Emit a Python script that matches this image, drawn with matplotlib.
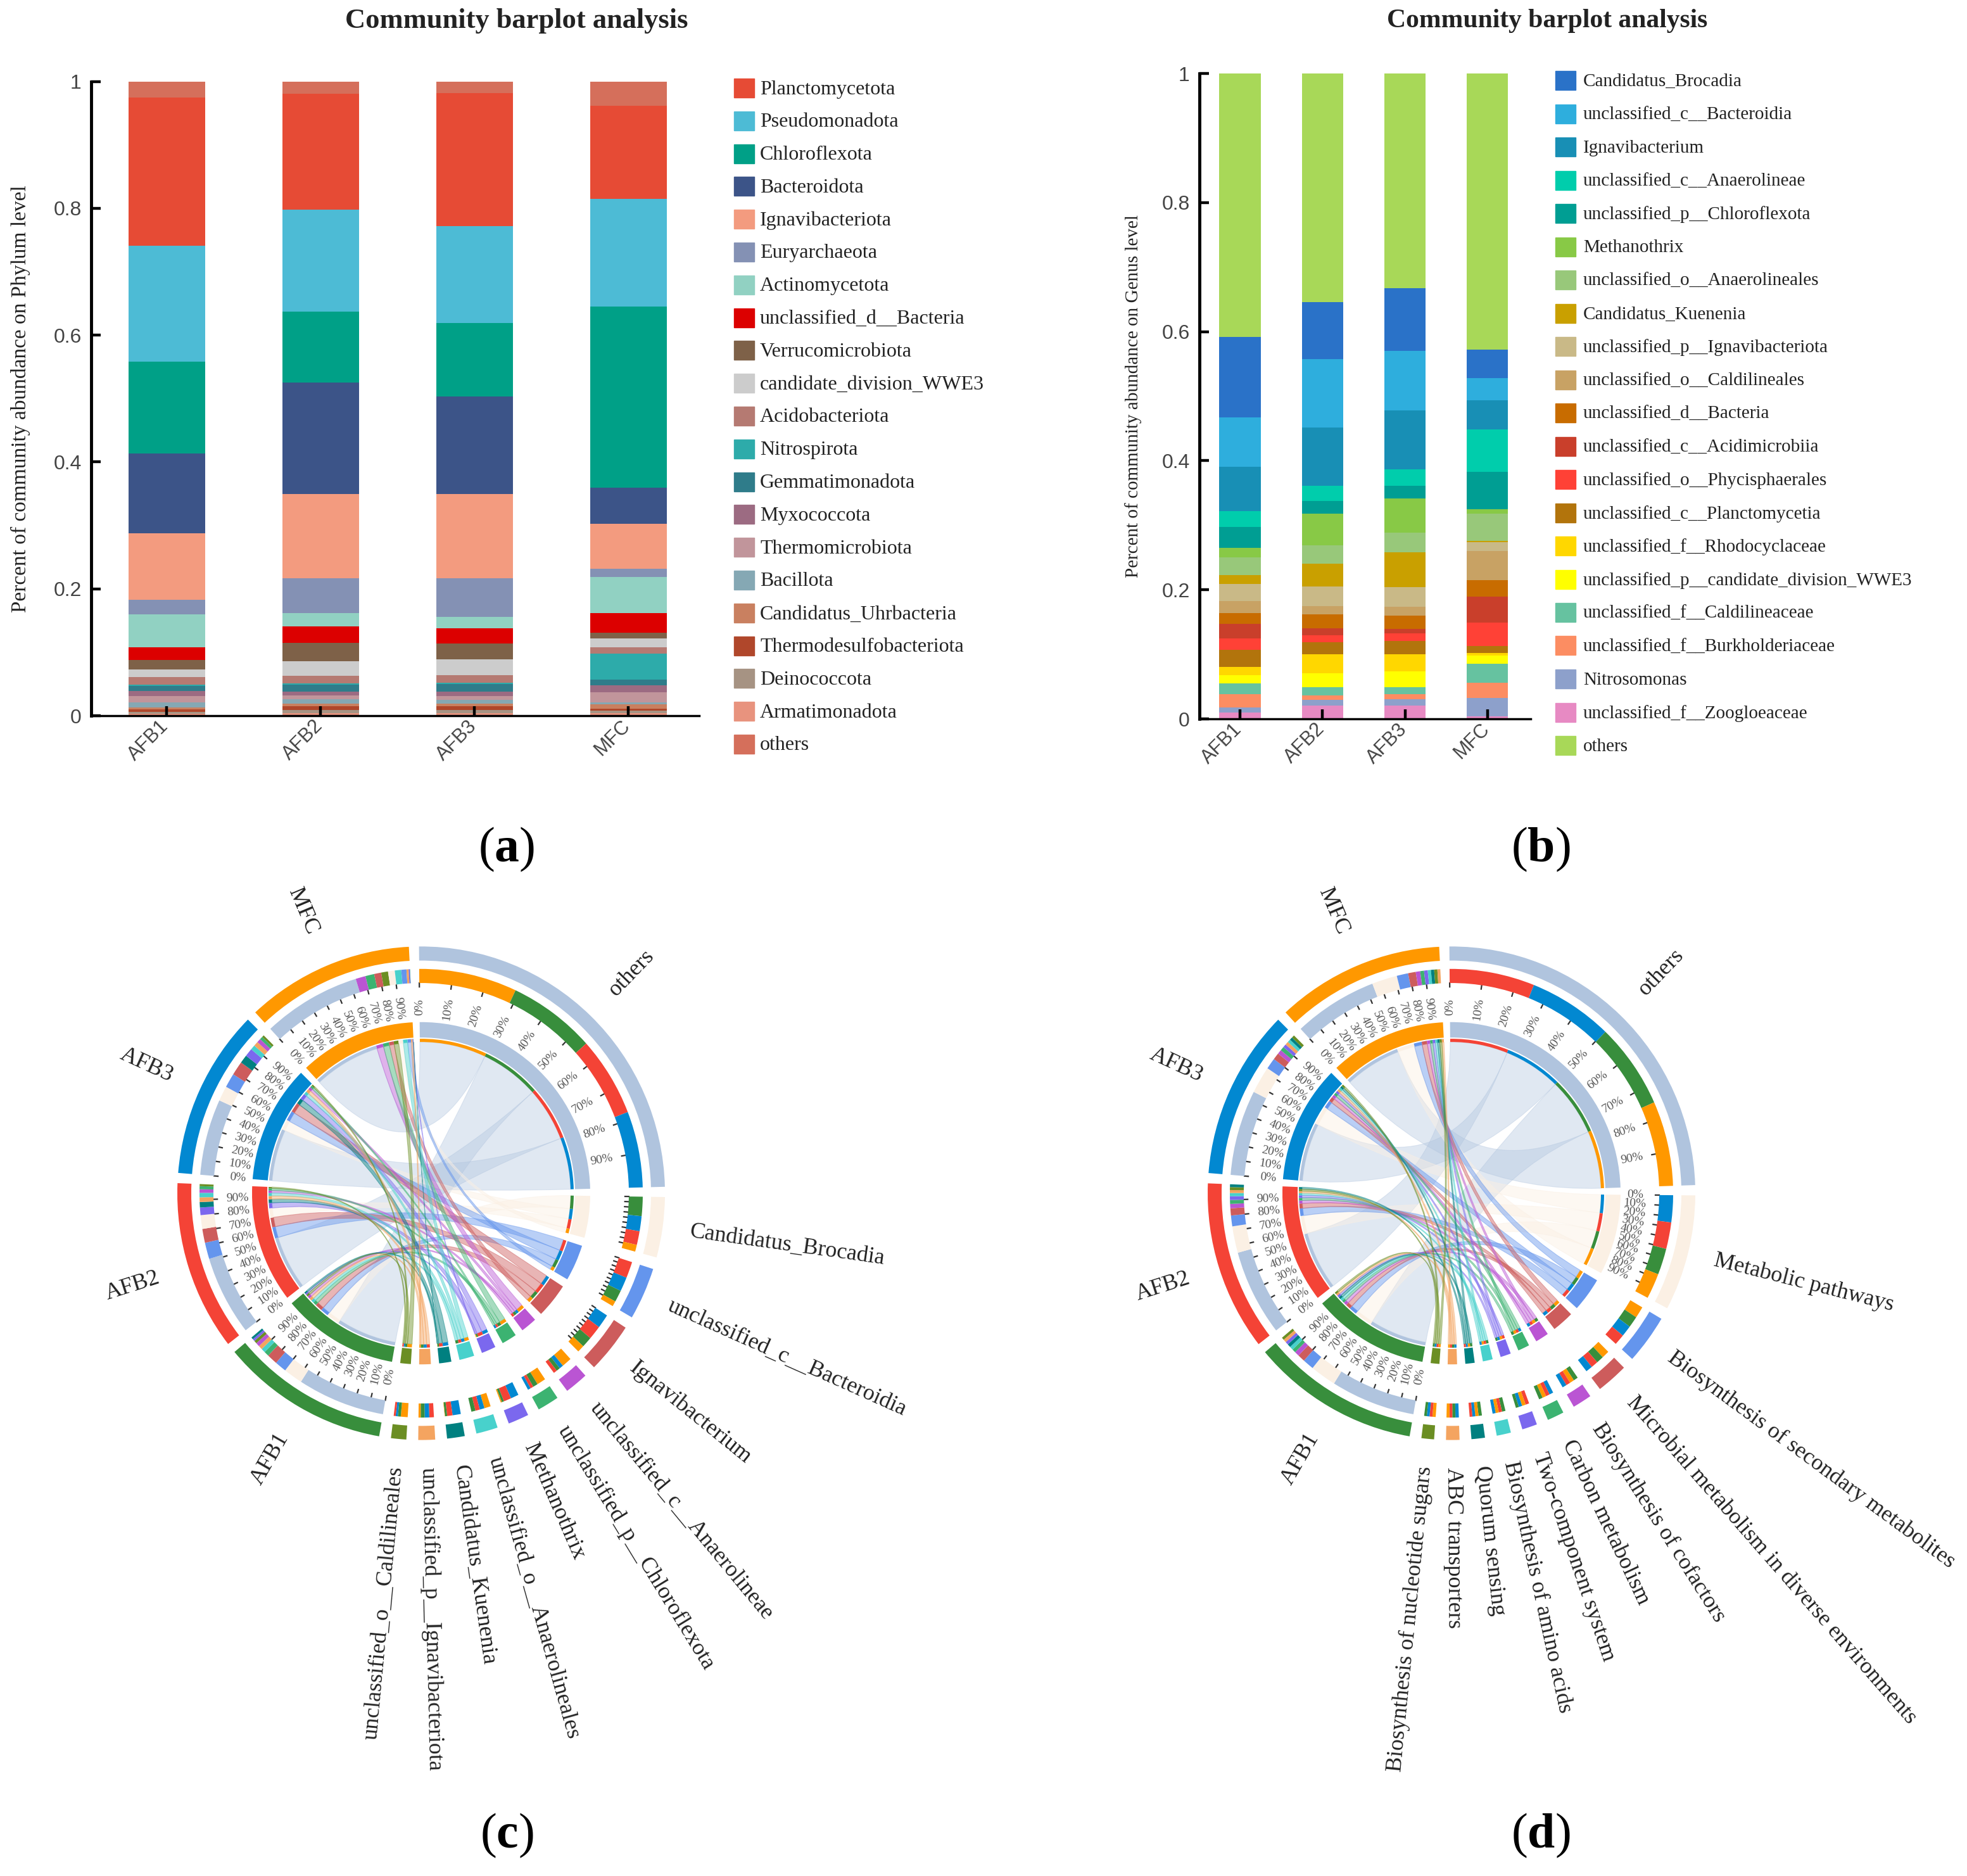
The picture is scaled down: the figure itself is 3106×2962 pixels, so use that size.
import numpy as np
import matplotlib
matplotlib.use('Agg')
import matplotlib.pyplot as plt
from matplotlib.patches import Wedge, PathPatch, Rectangle
from matplotlib.path import Path
from matplotlib.transforms import ScaledTranslation

plt.rcParams['font.family'] = ['Liberation Serif', 'DejaVu Sans']
plt.rcParams['mathtext.fontset'] = 'custom'
plt.rcParams['mathtext.bf'] = 'Liberation Serif:bold'
plt.rcParams['mathtext.rm'] = 'Liberation Serif'

W, H = 3106, 2962
samples = ['AFB1', 'AFB2', 'AFB3', 'MFC']

# phylum level, legend order then others
phylum_names = ['Planctomycetota', 'Pseudomonadota', 'Chloroflexota', 'Bacteroidota', 'Ignavibacteriota',
                'Euryarchaeota', 'Actinomycetota', 'unclassified_d__Bacteria', 'Verrucomicrobiota',
                'candidate_division_WWE3', 'Acidobacteriota', 'Nitrospirota', 'Gemmatimonadota', 'Myxococcota',
                'Thermomicrobiota', 'Bacillota', 'Candidatus_Uhrbacteria', 'Thermodesulfobacteriota',
                'Deinococcota', 'Armatimonadota', 'others']
phylum_colors = ['#e64b35', '#4dbbd5', '#00a087', '#3c5488', '#f39b7f', '#8491b4', '#91d1c2', '#dc0000',
                 '#7e6148', '#cccccc', '#b57a72', '#2dabaa', '#2f7c8a', '#9c6b82', '#c1959b', '#85a8b4',
                 '#c98060', '#b0472b', '#a69383', '#e8937e', '#d56f5b']
phylum_afb1 = [.234, .183, .145, .125, .105, .023, .052, .020, .015, .012, .012, .002, .008, .008, .010, .008, .003, .004, .003, .003, .025]
phylum_afb2 = [.183, .161, .112, .176, .132, .055, .021, .026, .029, .023, .012, .002, .011, .006, .006, .007, .004, .006, .005, .004, .019]
phylum_afb3 = [.210, .153, .116, .154, .132, .061, .018, .024, .025, .025, .012, .002, .012, .007, .006, .006, .004, .006, .005, .004, .018]
phylum_mfc = [.147, .170, .286, .056, .071, .013, .057, .031, .009, .014, .010, .041, .009, .011, .016, .003, .007, .003, .004, .004, .038]

# genus level
genus_names = ['Candidatus_Brocadia', 'unclassified_c__Bacteroidia', 'Ignavibacterium', 'unclassified_c__Anaerolineae',
               'unclassified_p__Chloroflexota', 'Methanothrix', 'unclassified_o__Anaerolineales', 'Candidatus_Kuenenia',
               'unclassified_p__Ignavibacteriota', 'unclassified_o__Caldilineales', 'unclassified_d__Bacteria',
               'unclassified_c__Acidimicrobiia', 'unclassified_o__Phycisphaerales', 'unclassified_c__Planctomycetia',
               'unclassified_f__Rhodocyclaceae', 'unclassified_p__candidate_division_WWE3', 'unclassified_f__Caldilineaceae',
               'unclassified_f__Burkholderiaceae', 'Nitrosomonas', 'unclassified_f__Zoogloeaceae', 'others']
genus_colors = ['#2a72c8', '#2eaedd', '#188fb5', '#00cdac', '#009e93', '#88c946', '#98c87a', '#c9a000', '#c9b987',
                '#c8a264', '#c86c00', '#c93f2b', '#ff4136', '#b2740c', '#ffd700', '#ffff00', '#66c2a0', '#fc8d62',
                '#8da0cb', '#e78ac3', '#a8d858']
genus_afb1 = [.125, .076, .069, .025, .032, .015, .027, .014, .026, .019, .017, .022, .018, .027, .012, .013, .017, .020, .008, .010, .408]
genus_afb2 = [.089, .106, .090, .023, .020, .049, .029, .035, .030, .013, .022, .010, .011, .019, .029, .022, .013, .007, .008, .021, .354]
genus_afb3 = [.097, .092, .091, .026, .019, .053, .031, .054, .030, .014, .021, .007, .011, .021, .026, .025, .011, .008, .009, .021, .333]
genus_mfc = [.044, .034, .046, .065, .058, .007, .042, .002, .014, .045, .026, .040, .036, .011, .004, .013, .029, .024, .028, .004, .428]

# chord panels: first row is others, columns AFB1 AFB2 AFB3 MFC
taxa_c = ['others', 'Candidatus_Brocadia', 'unclassified_c__Bacteroidia', 'Ignavibacterium',
          'unclassified_c__Anaerolineae', 'unclassified_p__Chloroflexota', 'Methanothrix',
          'unclassified_o__Anaerolineales', 'Candidatus_Kuenenia', 'unclassified_p__Ignavibacteriota',
          'unclassified_o__Caldilineales']
chord_c = [[.573, .516, .493, .643],
           [.125, .089, .097, .044],
           [.076, .106, .092, .034],
           [.069, .090, .091, .046],
           [.025, .023, .026, .065],
           [.032, .020, .019, .058],
           [.015, .049, .053, .007],
           [.027, .029, .031, .042],
           [.014, .035, .054, .002],
           [.026, .030, .030, .014],
           [.019, .013, .014, .045]]

taxa_d = ['others', 'Metabolic pathways', 'Biosynthesis of secondary metabolites',
          'Microbial metabolism in diverse environments', 'Biosynthesis of cofactors', 'Carbon metabolism',
          'Two-component system', 'Biosynthesis of amino acids', 'Quorum sensing', 'ABC transporters',
          'Biosynthesis of nucleotide sugars']
chord_d = [[.553, .558, .554, .550],
           [.170, .172, .175, .165],
           [.073, .070, .072, .075],
           [.048, .046, .044, .050],
           [.030, .028, .028, .029],
           [.024, .025, .026, .025],
           [.020, .024, .022, .024],
           [.023, .021, .020, .021],
           [.022, .018, .019, .021],
           [.020, .019, .022, .019],
           [.017, .019, .018, .021]]

taxa_colors = ['#b0c4de', '#fbf0e4', '#6495ed', '#cd5c5c', '#ba55d3', '#3cb371', '#7b68ee', '#48d1cc', '#008080', '#f4a460', '#6b8e23']
sample_colors = ['#388e3c', '#f44336', '#0288d1', '#ff9800']
yticks = [0, .2, .4, .6, .8, 1]
yticklabels = ['0', '0.2', '0.4', '0.6', '0.8', '1']


fig = plt.figure(figsize=(W / 100, H / 100), dpi=100, facecolor='white')


def px_axes(x0, x1, y_top, y_bot):
    return fig.add_axes([x0 / W, 1 - y_bot / H, (x1 - x0) / W, (y_bot - y_top) / H])


def stacked(ax, values, colors, order, width, ylabel, y_lab_x, y_lab_fs):
    bottom = np.zeros(4)
    for i in order:
        v = np.array([s[i] for s in values])
        ax.bar(range(4), v, width=width, bottom=bottom, color=colors[i], linewidth=0, zorder=2)
        bottom += v
    ax.set_ylim(0, 1)
    ax.set_yticks(yticks)
    ax.set_yticklabels(yticklabels, fontsize=23, family='Liberation Sans', color='#444444')
    ax.set_xticks(range(4))
    ax.set_xticklabels(samples, rotation=45, ha='right', rotation_mode='anchor', fontsize=22,
                       family='Liberation Sans', color='#444444')
    ax.tick_params(axis='y', direction='in', length=11, width=3.2, pad=11)
    ax.tick_params(axis='x', direction='in', length=11, width=3.2, pad=1)
    shift = ScaledTranslation(-0.12, 0, fig.dpi_scale_trans)
    for lab in ax.get_xticklabels():
        lab.set_transform(lab.get_transform() + shift)
    for s in ['top', 'right']:
        ax.spines[s].set_visible(False)
    ax.spines['left'].set_linewidth(3.5)
    ax.spines['bottom'].set_linewidth(2.5)
    ax.set_axisbelow(False)
    fig.text(y_lab_x / W, (ax.get_position().y0 + ax.get_position().y1) / 2, ylabel, rotation=90,
             ha='center', va='center', fontsize=y_lab_fs, color='#222222')


def legend(names, colors, sw_x, txt_x, y0, step, fs):
    for i, (n, c) in enumerate(zip(names, colors)):
        y = y0 + i * step
        fig.patches.append(Rectangle((sw_x / W, 1 - (y + 15) / H), 32 / W, 30 / H, color=c,
                                     transform=fig.transFigure, figure=fig))
        fig.text(txt_x / W, 1 - (y + 2) / H, n, fontsize=fs, va='center', color='#222222')


def arc_pts(r, a0, a1, n=30):
    t = np.radians(np.linspace(a0, a1, n))
    return np.column_stack([r * np.sin(t), r * np.cos(t)])


def ribbon(ax, r, a0, a1, b0, b1, color, alpha, z):
    pa = arc_pts(r, a0, a1)
    pb = arc_pts(r, b0, b1)
    verts = list(pa) + [(0, 0), pb[0]] + list(pb[1:]) + [(0, 0), pa[0]]
    codes = [Path.MOVETO] + [Path.LINETO] * (len(pa) - 1) + [Path.CURVE3, Path.CURVE3] + \
            [Path.LINETO] * (len(pb) - 1) + [Path.CURVE3, Path.CURVE3]
    ax.add_patch(PathPatch(Path(verts, codes), facecolor=color, edgecolor=color, lw=0.8, alpha=alpha, zorder=z))


def band(ax, r_out, r_in, a0, a1, color, z=5):
    ax.add_patch(Wedge((0, 0), r_out, 90 - a1, 90 - a0, width=r_out - r_in, facecolor=color, lw=0, zorder=z))


def chord(cx, cy, taxa, matrix, tick_names, label_names, start=-0.5):
    half = 560
    ax = px_axes(cx - half, cx + half, cy - half * 1.012, cy + half * 1.012)
    ax.set_xlim(-half, half)
    ax.set_ylim(-half, half)
    ax.axis('off')
    ax.patch.set_alpha(0)
    m = np.array(matrix)
    names = list(taxa) + samples
    colors = list(taxa_colors) + sample_colors
    nt = m.shape[0]
    totals = list(m.sum(axis=1)) + list(m.sum(axis=0))
    scale = 40.0
    # small sectors sit a little further apart than the large ones
    gap_small = 2.8
    gap_large = (360 - scale * sum(totals) - gap_small * (nt - 1)) / (len(totals) - nt + 1)
    spans = []
    a = start
    for k, t in enumerate(totals):
        spans.append((a, a + t * scale))
        a += t * scale + (gap_small if 1 <= k < nt else gap_large)
    pieces = {}
    for k, (a0, a1) in enumerate(spans):
        if k < nt:
            vals = [(m[k, j], nt + j) for j in range(4)]
        else:
            vals = [(m[i, k - nt], i) for i in range(nt)]
        vals.sort(key=lambda p: -p[0])
        pos = a0
        for v, other in vals:
            w = v * scale
            pieces[(k, other)] = (pos, pos + w)
            band(ax, 350, 328, pos, pos + w, colors[other])
            band(ax, 241, 236, pos, pos + w, colors[other])
            pos += w
        band(ax, 385, 363, a0, a1, colors[k])
        band(ax, 267, 243, a0, a1, colors[k])
        if names[k] in tick_names:
            for i in range(10):
                th = np.radians(a0 + (a1 - a0) * i / 10)
                ax.plot([322 * np.sin(th), 328 * np.sin(th)], [322 * np.cos(th), 328 * np.cos(th)],
                        color='#333333', lw=1.6, zorder=4)
                if names[k] in label_names:
                    deg = a0 + (a1 - a0) * i / 10
                    rot = 90 - deg if deg < 180 else 270 - deg
                    ax.text(290 * np.sin(th), 290 * np.cos(th), '%d%%' % (i * 10), rotation=rot, ha='center',
                            va='center', rotation_mode='anchor', fontsize=14, color='#555555')
        mid = (a0 + a1) / 2
        th = np.radians(mid)
        rot = 90 - mid if mid < 180 else 270 - mid
        if k == 0 or k >= nt:
            ax.text(478 * np.sin(th), 478 * np.cos(th), names[k], rotation=rot, ha='center', va='center',
                    rotation_mode='anchor', fontsize=26, color='#222222')
        else:
            ax.text(428 * np.sin(th), 428 * np.cos(th), names[k], rotation=rot,
                    ha='left' if mid < 180 else 'right', va='center', rotation_mode='anchor',
                    fontsize=26, color='#222222')
    # ribbons, others first so smaller ones sit on top
    for i in range(nt):
        for j in range(4):
            a0, a1 = pieces[(i, nt + j)]
            b0, b1 = pieces[(nt + j, i)]
            ribbon(ax, 236, a0, a1, b0, b1, colors[i], 0.45 if i else 0.38, 2 + i * 0.01)
    return ax


# (a)
ax_a = px_axes(144, 1104, 128.5, 1130)
stacked(ax_a, [phylum_afb1, phylum_afb2, phylum_afb3, phylum_mfc], phylum_colors,
        [19, 18, 17, 16, 15, 14, 13, 12, 11, 10, 9, 8, 7, 6, 5, 4, 3, 2, 1, 0, 20], 0.498,
        'Percent of community abundance on Phylum level', 32, 24)
ax_a.set_xlim(-0.49, 3.46)
legend(phylum_names, phylum_colors, 1159, 1200, 139, 51.8, 23)
fig.text(816 / W, 1 - 33 / H, 'Community barplot analysis', fontsize=32, fontweight='bold', ha='center', va='center', color='#222222')

# (b)
ax_b = px_axes(1894, 2417, 116, 1135)
stacked(ax_b, [genus_afb1, genus_afb2, genus_afb3, genus_mfc], genus_colors,
        list(range(19, -1, -1)) + [20], 0.5,
        'Percent of community abundance on Genus level', 1790, 21)
ax_b.set_xlim((1894 - 1958) / 130.3, (2417 - 1958) / 130.3)
legend(genus_names, genus_colors, 2456, 2500, 127, 52.5, 21)
fig.text(2443 / W, 1 - 33 / H, 'Community barplot analysis', fontsize=30, fontweight='bold', ha='center', va='center', color='#222222')

# (c), (d)
chord(665, 1884, taxa_c, chord_c,
      ['others', 'Candidatus_Brocadia', 'unclassified_c__Bacteroidia', 'Ignavibacterium'] + samples,
      ['others'] + samples)
chord(2292, 1884, taxa_d, chord_d, ['others', 'Metabolic pathways'] + samples,
      ['others', 'Metabolic pathways'] + samples)

for lab, x, y in [('a', 800, 1341), ('b', 2433, 1341), ('c', 800, 2898), ('d', 2433, 2898)]:
    fig.text(x / W, 1 - y / H, '($\\mathbf{%s}$)' % lab, fontsize=56, ha='center', va='center', color='black')

fig.savefig('out.png', dpi=100, facecolor='white')
